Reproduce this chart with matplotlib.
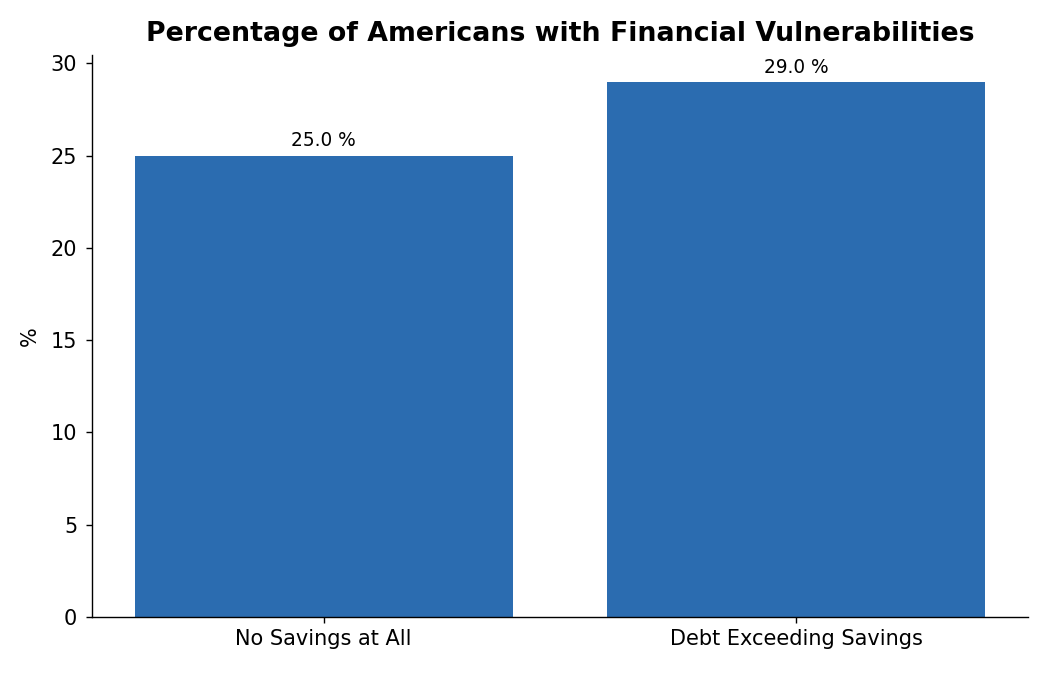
import matplotlib
matplotlib.use("Agg")
import matplotlib.pyplot as plt

# data
categories = ["No Savings at All", "Debt Exceeding Savings"]
values = [25.0, 29.0]

fig = plt.figure(figsize=(8.4, 5.4), dpi=125)
ax = fig.add_axes([0.0876, 0.0859, 0.8914, 0.8326])

bars = ax.bar(categories, values, width=0.8, color="#2b6cb0")
for b, v in zip(bars, values):
    ax.annotate(f"{v:.1f} %", (b.get_x() + b.get_width() / 2, v),
                xytext=(0, 3), textcoords="offset points",
                ha="center", va="bottom", fontsize=10.7)

ax.set_title("Percentage of Americans with Financial Vulnerabilities",
             fontsize=15.4, fontweight="bold", pad=8)
ax.set_ylabel("%", fontsize=12, labelpad=6)
ax.tick_params(labelsize=12)
ax.tick_params(axis="y", pad=5)
ax.spines["top"].set_visible(False)
ax.spines["right"].set_visible(False)

fig.savefig("out.png", dpi=125)
